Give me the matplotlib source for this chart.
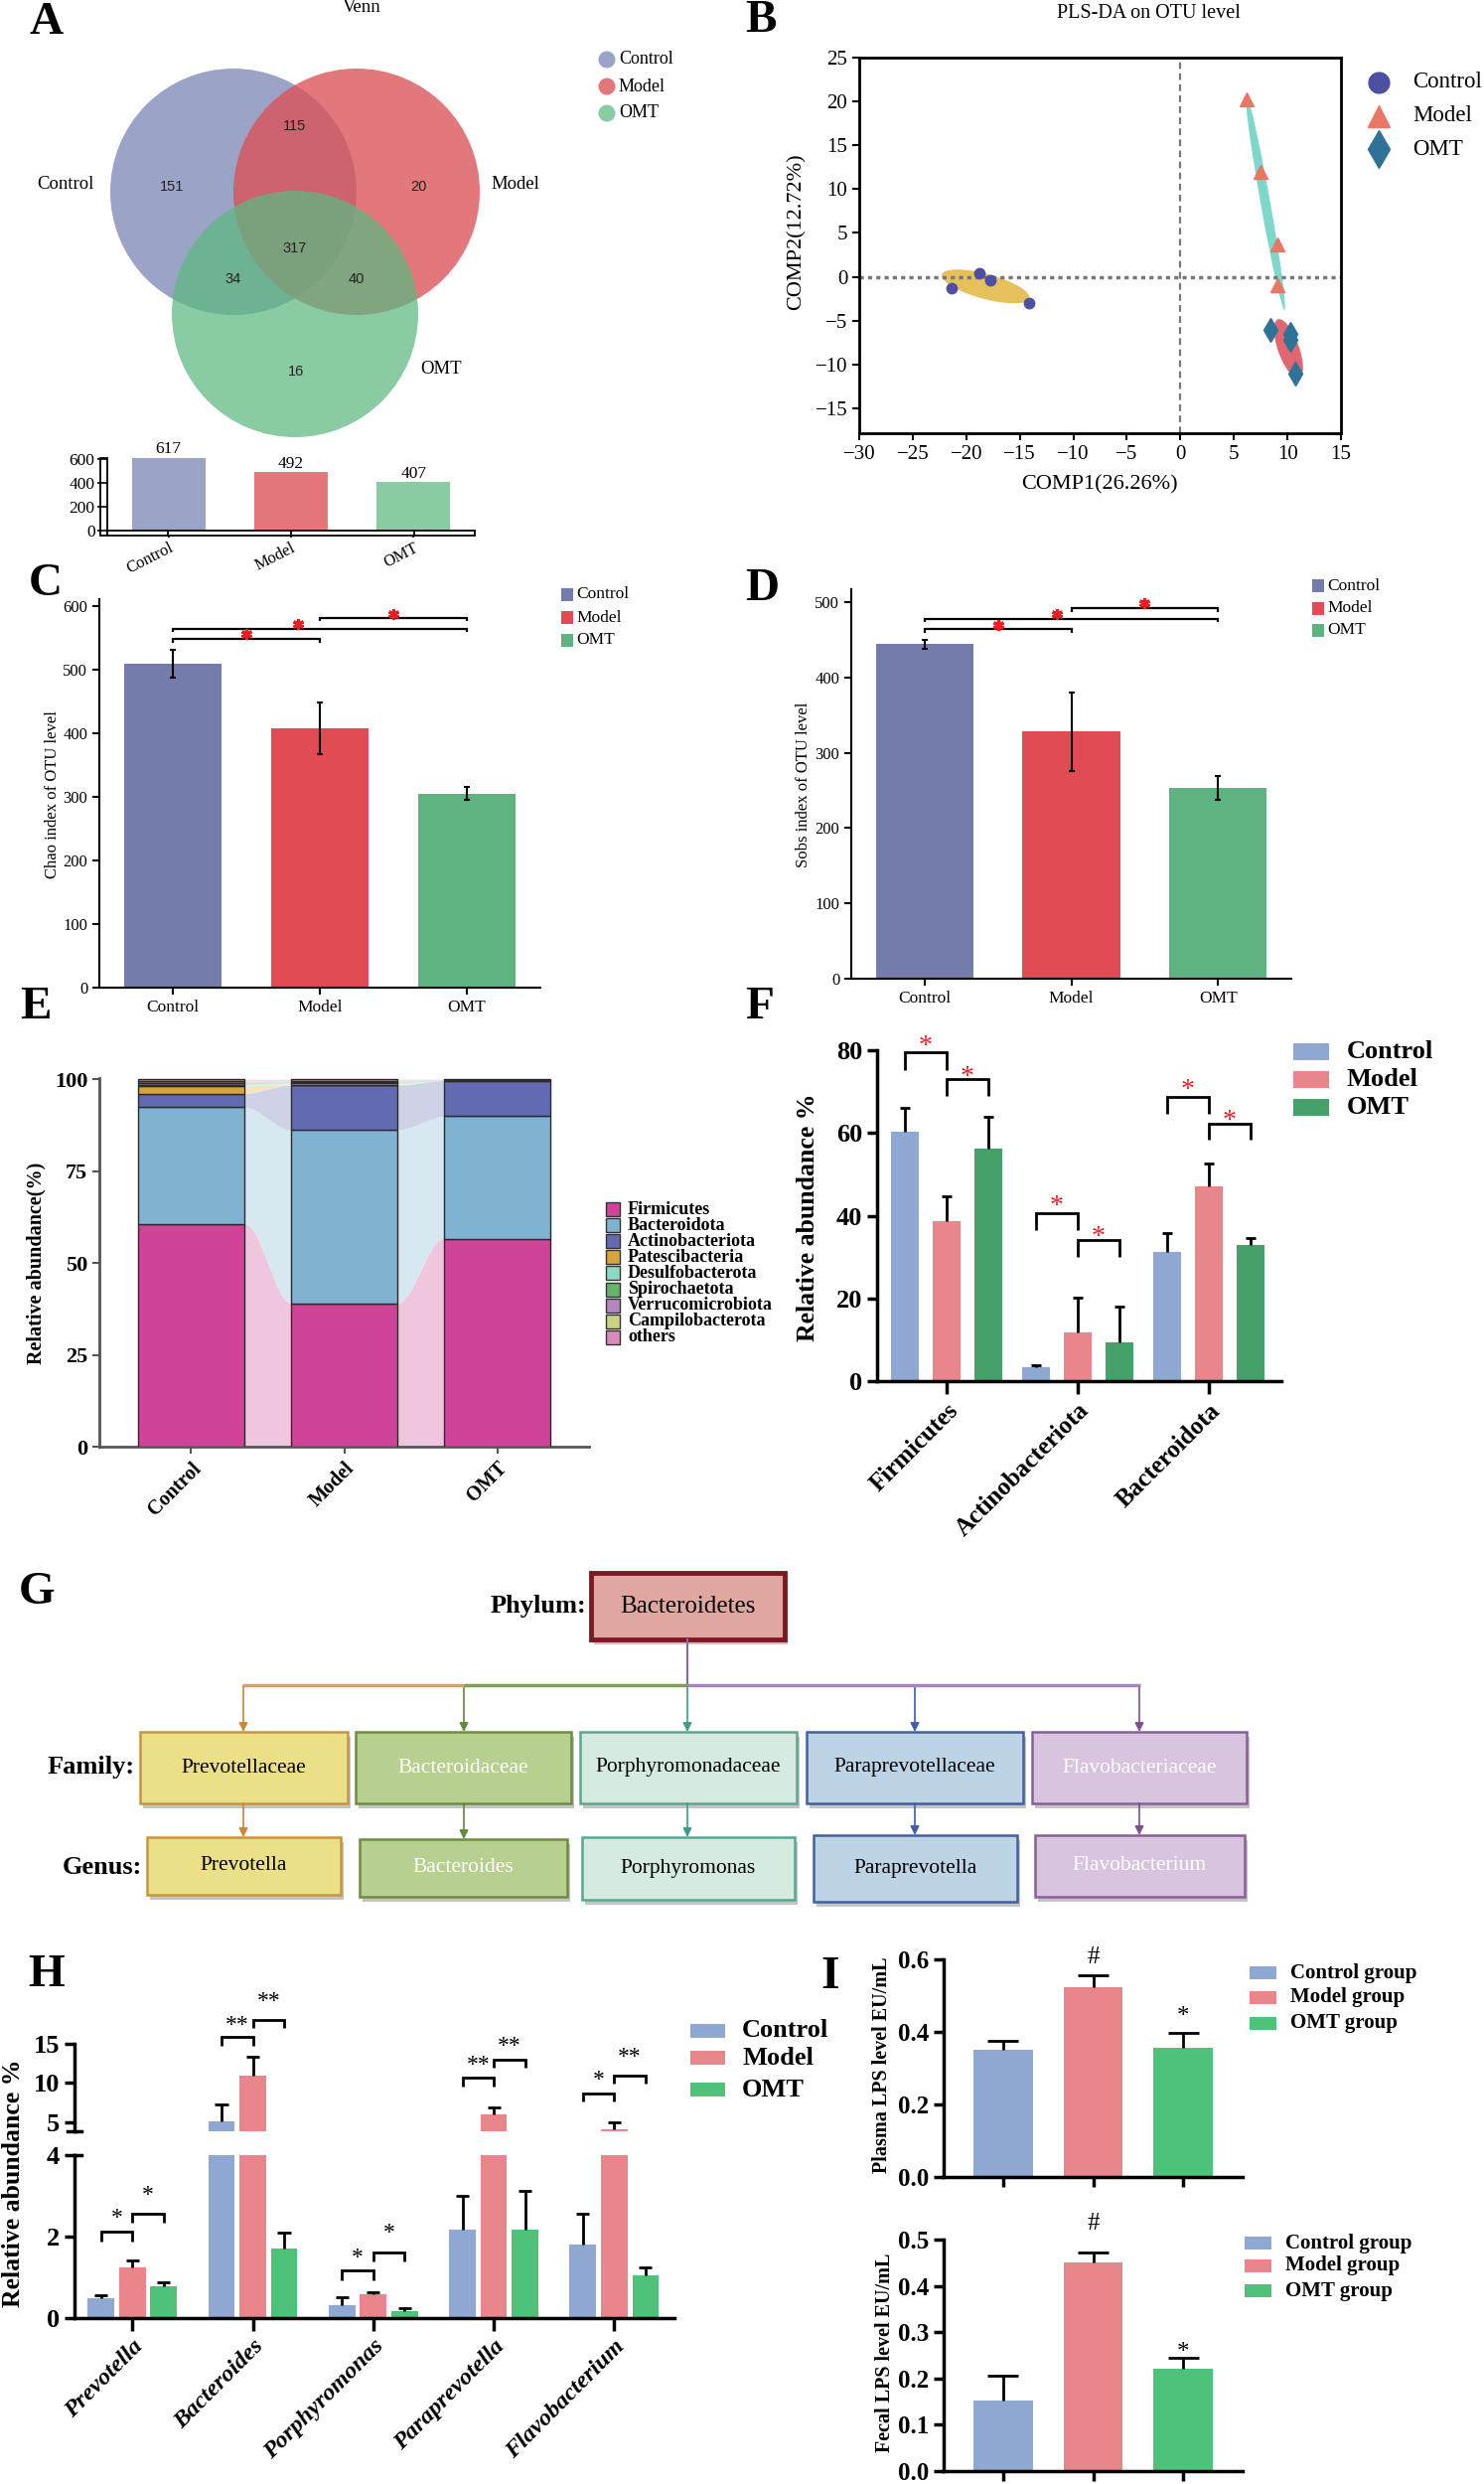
import numpy as np
import matplotlib
matplotlib.use('Agg')
import matplotlib.pyplot as plt
from matplotlib.patches import Circle, Rectangle, Ellipse, FancyArrowPatch
from matplotlib.ticker import FormatStrFormatter

plt.rcParams['font.family'] = ['Liberation Serif', 'DejaVu Serif']

# ------------------------------------------------------------------ data
groups = ['Control', 'Model', 'OMT']

# A: Venn (region counts) and OTU totals
venn_regions = ['Control', 'Model', 'OMT', 'Control&Model', 'Control&OMT', 'Model&OMT', 'All']
venn_counts = [151, 20, 16, 115, 34, 40, 317]
otu_totals = [617, 492, 407]

# B: PLS-DA scores
pls_ctrl_x = [-21.4, -18.8, -17.75, -14.1]
pls_ctrl_y = [-1.25, 0.42, -0.38, -3.03]
pls_model_x = [6.2, 7.5, 9.1, 9.1]
pls_model_y = [20.2, 12.0, 3.7, -0.9]
pls_omt_x = [8.4, 10.3, 10.3, 10.7]
pls_omt_y = [-6.1, -6.5, -7.2, -11.0]

# C / D: alpha diversity
chao_mean = [510, 408, 305]
chao_err = [22, 41, 10]
sobs_mean = [444, 328, 253]
sobs_err = [5.5, 52, 16]

# E: phylum composition (%)
phyla = ['Firmicutes', 'Bacteroidota', 'Actinobacteriota', 'Patescibacteria',
         'Desulfobacterota', 'Spirochaetota', 'Verrucomicrobiota',
         'Campilobacterota', 'others']
phyla_ctrl = [60.6, 31.8, 3.7, 2.1, 0.3, 0.5, 0.4, 0.1, 0.5]
phyla_model = [39.0, 47.3, 12.0, 0.1, 0.6, 0.3, 0.2, 0.1, 0.4]
phyla_omt = [56.6, 33.3, 9.7, 0.05, 0.05, 0.05, 0.05, 0.0, 0.2]

# F: selected phyla
f_taxa = ['Firmicutes', 'Actinobacteriota', 'Bacteroidota']
f_ctrl = [60.3, 3.4, 31.3]
f_ctrl_err = [5.7, 0.5, 4.4]
f_model = [38.7, 11.8, 47.0]
f_model_err = [6.1, 8.5, 5.6]
f_omt = [56.2, 9.4, 32.9]
f_omt_err = [7.8, 8.7, 1.8]

# G: taxonomy tree
phylum_name = 'Bacteroidetes'
family_names = ['Prevotellaceae', 'Bacteroidaceae', 'Porphyromonadaceae',
                'Paraprevotellaceae', 'Flavobacteriaceae']
genus_names = ['Prevotella', 'Bacteroides', 'Porphyromonas', 'Paraprevotella',
               'Flavobacterium']

# H: genera
h_genera = ['Prevotella', 'Bacteroides', 'Porphyromonas', 'Paraprevotella', 'Flavobacterium']
h_ctrl = [0.50, 5.1, 0.32, 2.17, 1.81]
h_ctrl_err = [0.05, 2.2, 0.20, 0.83, 0.76]
h_model = [1.24, 10.9, 0.58, 6.0, 4.15]
h_model_err = [0.17, 2.5, 0.05, 0.9, 0.85]
h_omt = [0.77, 1.71, 0.17, 2.16, 1.05]
h_omt_err = [0.10, 0.38, 0.07, 0.96, 0.20]

# I: LPS
lps_groups = ['Control group', 'Model group', 'OMT group']
plasma_lps = [0.352, 0.522, 0.355]
plasma_err = [0.024, 0.033, 0.042]
fecal_lps = [0.152, 0.450, 0.221]
fecal_err = [0.054, 0.023, 0.023]
lps_marks = ['', '#', '*']

# ------------------------------------------------------------------ figure
W, H = 1494, 2500
fig = plt.figure(figsize=(W / 100, H / 100), dpi=100)


def px_axes(x0, y0, x1, y1):
    return fig.add_axes([x0 / W, 1 - y1 / H, (x1 - x0) / W, (y1 - y0) / H])


def mark(ax, x, y, s, size, color='black', frac=0.52, **kw):
    ax.annotate(s, (x, y), xytext=(0, -frac * size), textcoords='offset points',
                ha='center', va='baseline', fontsize=size, color=color,
                annotation_clip=False, **kw)


def bracket(ax, x1, x2, y, drop, lw=2.0, color='black'):
    ax.plot([x1, x1, x2, x2], [y - drop, y, y, y - drop], color=color, lw=lw,
            clip_on=False, solid_joinstyle='miter', solid_capstyle='butt')


def up_err(ax, xs, vals, errs, half, lw=2.0):
    for x, v, e in zip(xs, vals, errs):
        ax.plot([x, x], [v, v + e], color='black', lw=lw, solid_capstyle='butt')
        ax.plot([x - half, x + half], [v + e, v + e], color='black', lw=lw,
                solid_capstyle='butt')


def bold_axes(ax, lw=2.5):
    for s in ['top', 'right']:
        ax.spines[s].set_visible(False)
    for s in ['left', 'bottom']:
        ax.spines[s].set_linewidth(lw)
    ax.tick_params(width=lw, direction='out')


xs = np.arange(3)

# ================= A: Venn =================
axA = px_axes(0, 40, 750, 460)
axA.set_xlim(0, 750)
axA.set_ylim(460, 40)
axA.axis('off')
venn_fill = ['#9BA3C6', '#DB5157', '#5DB881']
venn_alpha = [1.0, 0.78, 0.73]
venn_centers = [(235, 193), (359, 193), (297, 316)]
for (cx, cy), c, a in zip(venn_centers, venn_fill, venn_alpha):
    axA.add_patch(Circle((cx, cy), 124, facecolor=c, alpha=a, lw=0))
num_pos = [(173, 188), (421, 188), (298, 374), (297, 127), (235, 281), (359, 281), (297, 250)]
for (x, y), n in zip(num_pos, venn_counts):
    axA.text(x, y, str(n), ha='center', va='center', fontsize=10.5,
             family=['Liberation Sans Narrow', 'Liberation Sans'], color='#222222')
for (x, y), g in zip([(66, 186), (519, 186), (444, 372)], groups):
    axA.text(x, y, g, ha='center', va='center', fontsize=13.5)

venn_legend_col = ['#9BA3C6', '#E3777C', '#89CBA3']
axAb = px_axes(108, 461, 478, 534)
axAb.bar(xs, otu_totals, width=0.6, color=venn_legend_col)
axAb.set_xlim(-0.5, 2.5)
axAb.set_ylim(0, 612)
for s in axAb.spines.values():
    s.set_visible(False)
axAb.set_yticks([0, 200, 400, 600])
axAb.tick_params(axis='y', length=7, width=1.2, labelsize=12.5, pad=2)
axAb.set_xticks(xs)
axAb.set_xticklabels(groups, rotation=27, ha='right', rotation_mode='anchor', fontsize=12)
axAb.tick_params(axis='x', length=5, width=1.2, pad=2)
for i, v in enumerate(otu_totals):
    axAb.text(i, v + 2, str(v), ha='center', va='bottom', fontsize=12.5)

# ================= B: PLS-DA =================
axB = px_axes(865, 58, 1350, 436)
axB.set_xlim(-30, 15)
axB.set_ylim(-17.84, 25)
axB.add_patch(Ellipse((-18.2, -1.1), 8.6, 2.8, angle=-19, facecolor='#E6C05A', lw=0, zorder=1))
axB.add_patch(Ellipse((7.95, 8.4), 24.6, 0.9, angle=98.3, facecolor='#7DD8CB', lw=0, zorder=1))
axB.add_patch(Ellipse((10.1, -8.2), 7.0, 2.0, angle=105.8, facecolor='#E06670', lw=0, zorder=1))
axB.axhline(0, color='#777777', ls=(0, (1.2, 1.2)), lw=2.5, zorder=2)
axB.axvline(0, color='#777777', ls=(0, (3, 2)), lw=1.6, zorder=2)
axB.plot(pls_ctrl_x, pls_ctrl_y, 'o', ms=7.5, color='#4B50A5', zorder=3)
axB.plot(pls_model_x, pls_model_y, '^', ms=10, color='#EA7664', zorder=3)
axB.plot(pls_omt_x, pls_omt_y, 'd', ms=12, color='#2E7397', zorder=3)
axB.set_xticks(np.arange(-30, 16, 5))
axB.set_yticks(np.arange(-15, 26, 5))
for s in axB.spines.values():
    s.set_linewidth(2)
axB.tick_params(labelsize=15, length=5, width=1.5)

# ================= C / D =================
cd_colors = ['#737CAA', '#E14B53', '#5FB380']


def alpha_panel(ax, mean, err, ylim, yticks, brackets, stars):
    ax.bar(xs, mean, width=0.665, color=cd_colors)
    ax.errorbar(xs, mean, yerr=err, fmt='none', ecolor='black', elinewidth=1.5,
                capsize=2.5, capthick=1.5)
    ax.set_xlim(-0.5, 2.5)
    ax.set_ylim(*ylim)
    ax.set_yticks(yticks)
    for s in ['top', 'right']:
        ax.spines[s].set_visible(False)
    for s in ['left', 'bottom']:
        ax.spines[s].set_linewidth(1.5)
    ax.tick_params(length=5, width=1.5, labelsize=12)
    ax.set_xticks(xs)
    ax.set_xticklabels(groups, fontsize=12.5)
    for x1, x2, y, d in brackets:
        bracket(ax, x1, x2, y, d, lw=1.6)
    for x, y in stars:
        ax.plot(x, y, marker=(6, 2, 0), ms=8, mew=2.3, color='#EE1C25', clip_on=False)


axC = px_axes(100, 603, 544, 994)
alpha_panel(axC, chao_mean, chao_err, (0, 611), range(0, 601, 100),
            [(0, 1, 548, 5), (0, 2, 564.6, 5), (1, 2, 581, 5)],
            [(0.5, 557), (0.85, 572), (1.5, 588)])
axD = px_axes(857, 593, 1300, 985)
alpha_panel(axD, sobs_mean, sobs_err, (0, 517), range(0, 501, 100),
            [(0, 1, 464, 5), (0, 2, 478, 5), (1, 2, 492, 5)],
            [(0.5, 470), (0.9, 484), (1.5, 498)])

# ================= E: stacked composition =================
phyla_colors = ['#CF4498', '#7FB3D1', '#626AB2', '#D9A43D', '#8CD9C6',
                '#66B36E', '#B487C4', '#CBD483', '#D98BBC']
axE = px_axes(100, 1085, 593, 1456)
comp = np.array([phyla_ctrl, phyla_model, phyla_omt])
tops = np.cumsum(comp, axis=1)
bots = tops - comp
bw = 0.7
for k in range(len(phyla)):
    axE.bar(xs, comp[:, k], bottom=bots[:, k], width=bw, color=phyla_colors[k],
            edgecolor='#2a2a2a', lw=1.0, zorder=3)
for i in range(2):
    xr = i + bw / 2
    xl = i + 1 - bw / 2
    xx = np.linspace(xr, xl, 60)
    t = (xx - xr) / (xl - xr)
    sm = t * t * (3 - 2 * t)
    for k in range(len(phyla)):
        lo = bots[i, k] + (bots[i + 1, k] - bots[i, k]) * sm
        hi = tops[i, k] + (tops[i + 1, k] - tops[i, k]) * sm
        axE.fill_between(xx, lo, hi, color=phyla_colors[k], alpha=0.3, lw=0, zorder=2)
axE.set_xlim(-0.6, 2.6)
axE.set_ylim(0, 100.3)
axE.set_yticks([0, 25, 50, 75, 100])
for s in ['top', 'right']:
    axE.spines[s].set_visible(False)
for s in ['left', 'bottom']:
    axE.spines[s].set_linewidth(2)
    axE.spines[s].set_color('#555555')
axE.tick_params(length=5, width=1.5, color='#555555')
axE.set_yticklabels(['0', '25', '50', '75', '100'], fontsize=16, fontweight='bold')
axE.set_xticks(xs)
axE.set_xticklabels(groups, rotation=45, ha='right', rotation_mode='anchor',
                    fontsize=14.5, fontweight='bold')

# ================= F: phyla bars =================
fg_colors = ['#8FA8D2', '#E8868C', '#45A06A']
axF = px_axes(883, 1057, 1290, 1390)
f_offs = [-0.318, 0, 0.318]
for off, vals, errs, c in zip(f_offs, [f_ctrl, f_model, f_omt],
                              [f_ctrl_err, f_model_err, f_omt_err], fg_colors):
    axF.bar(xs + off, vals, width=0.208, color=c)
    up_err(axF, xs + off, vals, errs, 0.04, lw=2)
axF.set_xlim(-0.53, 2.553)
axF.set_ylim(0, 80)
axF.set_yticks([0, 20, 40, 60, 80])
bold_axes(axF, 2.5)
axF.tick_params(axis='y', length=7.2)
axF.tick_params(axis='x', length=9.5)
axF.set_yticklabels(['0', '20', '40', '60', '80'], fontsize=19, fontweight='bold')
axF.set_xticks(xs)
axF.set_xticklabels(f_taxa, rotation=45, ha='right', rotation_mode='anchor',
                    fontsize=18, fontweight='bold')
f_brackets = [(0, 0, 79.4, 4.1, 82.8), (0, 1, 73.0, 4.0, 75.4),
              (1, 0, 40.5, 3.9, 44.0), (1, 1, 34.0, 4.0, 36.7),
              (2, 0, 68.7, 4.1, 72.1), (2, 1, 62.2, 3.8, 64.7)]
for g, p, y, d, sy in f_brackets:
    x1 = g + f_offs[p]
    x2 = g + f_offs[p + 1]
    bracket(axF, x1, x2, y, d, lw=2)
    mark(axF, (x1 + x2) / 2, sy, '*', 20, color='#EE1C25')

# ================= H: genera with broken axis =================
h_colors = ['#8FA8D2', '#E8868C', '#4FC27A']
axHl = px_axes(75, 2169, 679, 2333)
axHu = px_axes(75, 2057, 679, 2145)
hx = np.arange(5)
h_offs = [-0.26, 0, 0.26]
for ax in (axHl, axHu):
    for off, vals, errs, c in zip(h_offs, [h_ctrl, h_model, h_omt],
                                  [h_ctrl_err, h_model_err, h_omt_err], h_colors):
        ax.bar(hx + off, vals, width=0.22, color=c)
        up_err(ax, hx + off, vals, errs, 0.054, lw=2)
    ax.set_xlim(-0.48, 4.5)
axHl.set_ylim(0, 4)
axHu.set_ylim(3.86, 15)
bold_axes(axHl, 2.5)
bold_axes(axHu, 2.5)
axHu.spines['bottom'].set_visible(False)
axHu.set_xticks([])
axHl.set_yticks([0, 2, 4])
axHl.set_yticklabels(['0', '2', '4'], fontsize=19, fontweight='bold')
axHu.set_yticks([5, 10, 15])
axHu.set_yticklabels(['5', '10', '15'], fontsize=19, fontweight='bold')
axHl.tick_params(axis='y', length=7.2)
axHu.tick_params(axis='y', length=7.2)
axHl.tick_params(axis='x', length=9.5)
axHl.set_xticks(hx)
axHl.set_xticklabels(h_genera, rotation=45, ha='right', rotation_mode='anchor',
                     fontsize=17.5, fontweight='bold', fontstyle='italic')
axHu.plot([-0.012, 0.012], [3.86, 3.86], transform=axHu.get_yaxis_transform(),
          color='black', lw=2.5, clip_on=False)
axHl.plot([0, 0.012], [4, 4], transform=axHl.get_yaxis_transform(),
          color='black', lw=2.5, clip_on=False)
h_brackets = [(0, 0, 2.12, 0.23, 2.61, '*', 'l'), (0, 1, 2.56, 0.21, 3.18, '*', 'l'),
              (1, 0, 15.85, 1.15, 18.2, '**', 'u'), (1, 1, 18.1, 1.1, 21.3, '**', 'u'),
              (2, 0, 1.16, 0.23, 1.64, '*', 'l'), (2, 1, 1.61, 0.23, 2.24, '*', 'l'),
              (3, 0, 10.67, 1.07, 13.1, '**', 'u'), (3, 1, 13.0, 1.1, 15.5, '**', 'u'),
              (4, 0, 8.66, 1.06, 11.2, '*', 'u'), (4, 1, 11.0, 1.1, 14.15, '**', 'u')]
for g, p, y, d, sy, s, which in h_brackets:
    ax = axHl if which == 'l' else axHu
    x1 = g + h_offs[p]
    x2 = g + h_offs[p + 1]
    bracket(ax, x1, x2, y, d, lw=2)
    mark(ax, (x1 + x2) / 2, sy, s, 17)

# ================= I: LPS =================
i_colors = ['#8FA8D2', '#E8868C', '#4FC27A']


def lps_panel(ax, vals, errs, ymax, step, mark_y):
    ax.bar(xs, vals, width=0.66, color=i_colors)
    up_err(ax, xs, vals, errs, 0.17, lw=2)
    ax.set_xlim(-0.66, 2.66)
    ax.set_ylim(0, ymax)
    ax.set_yticks(np.arange(0, ymax + 1e-9, step))
    ax.yaxis.set_major_formatter(FormatStrFormatter('%.1f'))
    bold_axes(ax, 2.5)
    ax.tick_params(axis='y', length=7.2, labelsize=18)
    for lab in ax.get_yticklabels():
        lab.set_fontweight('bold')
    ax.set_xticks(xs)
    ax.set_xticklabels([])
    ax.tick_params(axis='x', length=7.5)
    for x, s, y in zip(xs, lps_marks, mark_y):
        if s:
            mark(ax, x, y, s, 18, frac=0.52 if s == '*' else 0.34)


axI1 = px_axes(950, 1972, 1251, 2191)
lps_panel(axI1, plasma_lps, plasma_err, 0.6, 0.2, [0, 0.611, 0.46])
axI2 = px_axes(950, 2254, 1251, 2487)
lps_panel(axI2, fecal_lps, fecal_err, 0.5, 0.1, [0, 0.539, 0.27])

# ================= overlay (pixel coordinates) =================
ov = fig.add_axes([0, 0, 1, 1])
ov.set_xlim(0, W)
ov.set_ylim(H, 0)
ov.axis('off')

# panel letters
for lab, x, y in [('A', 29, 2), ('B', 750, 0), ('C', 29, 567), ('D', 750, 572),
                  ('E', 20, 993), ('F', 750, 993), ('G', 19, 1582), ('H', 28, 1967),
                  ('I', 826, 1969)]:
    ov.text(x, y, lab, fontsize=34, fontweight='bold', ha='left', va='top')

# A extras
ov.text(364, 8, 'Venn', fontsize=13.5, ha='center', va='center')
for i, (g, c) in enumerate(zip(groups, venn_legend_col)):
    ov.add_patch(Circle((611, 60 + 27 * i), 8.5, facecolor=c, lw=0))
    ov.text(623, 60 + 27 * i, g, fontsize=13, va='center', ha='left')
ov.add_patch(Rectangle((101, 461), 7, 78, facecolor='none', edgecolor='black', lw=1.3))
ov.add_patch(Rectangle((108, 534), 370, 5, facecolor='white', edgecolor='black', lw=1.3))
for tx in [169, 293, 417]:
    ov.plot([tx, tx], [534, 539], color='black', lw=1.3)

# B extras
ov.text(1156, 13, 'PLS-DA on OTU level', fontsize=14.5, ha='center', va='center')
ov.text(1107, 488, 'COMP1(26.26%)', fontsize=16, ha='center', va='center')
ov.text(802, 233, 'COMP2(12.72%)', fontsize=16, ha='center', va='center', rotation=90)
ov.plot([1388], [83], 'o', ms=15, color='#4B50A5')
ov.plot([1388], [117], '^', ms=16, color='#EA7664')
ov.plot([1388], [150], 'd', ms=19, color='#2E7397')
for y, g in zip([83, 117, 150], groups):
    ov.text(1422, y, g, fontsize=16.5, va='center', ha='left')

# C / D extras
ov.text(53, 800, 'Chao index of OTU level', fontsize=12, rotation=90, ha='center', va='center')
ov.text(809, 790, 'Sobs index of OTU level', fontsize=12, rotation=90, ha='center', va='center')
for x0, ys in [(565, [592, 615, 638]), (1321, [583, 606, 628])]:
    for y, g, c in zip(ys, groups, cd_colors):
        ov.add_patch(Rectangle((x0, y), 12, 12.5, facecolor=c, lw=0))
        ov.text(x0 + 15, y + 6.5, g, fontsize=12.5, va='center', ha='left')

# E extras
ov.text(36, 1271, 'Relative abundance(%)', fontsize=14.5, fontweight='bold',
        rotation=90, ha='center', va='center')
for k, (name, c) in enumerate(zip(phyla, phyla_colors)):
    yc = 1217 + 16.1 * k
    ov.add_patch(Rectangle((610, yc - 7), 14, 14, facecolor=c, edgecolor='#333333', lw=1))
    ov.text(632, yc, name, fontsize=13, fontweight='bold', va='center', ha='left')

# F extras
ov.text(814, 1225, 'Relative abundance %', fontsize=18.5, fontweight='bold',
        rotation=90, ha='center', va='center')
for y, g, c in zip([1050, 1078, 1106], groups, fg_colors):
    ov.add_patch(Rectangle((1302, y), 36, 16.5, facecolor=c, lw=0))
    ov.text(1356, y + 8.5, g, fontsize=19, fontweight='bold', va='center', ha='left')

# G: taxonomy tree
fam_fill = ['#EBDF87', '#B8D08F', '#D5EBDF', '#BDD4E6', '#D8C4DF']
fam_edge = ['#C99440', '#6F8C3F', '#5BA593', '#4060A0', '#8B5E9B']
txt_col = ['black', 'white', 'black', 'black', 'white']
arrow_col = ['#C8892F', '#5F8A3A', '#3E9C88', '#3C5DA8', '#7D4F8E']
fam_boxes = [(141, 350), (358, 575), (584, 802), (812, 1030), (1039, 1255)]
gen_boxes = [(148, 343, 1849, 1907), (362, 571, 1851, 1909), (586, 800, 1849, 1912),
             (819, 1024, 1847, 1914), (1042, 1253, 1847, 1909)]
branch_x = [245, 467, 692, 921, 1147]


def box(x0, x1, y0, y1, fc, ec, lw=1.8, shadow=True):
    if shadow:
        ov.add_patch(Rectangle((x0 + 3, y0 + 5), x1 - x0, y1 - y0, facecolor='#C4C4C4', lw=0))
    ov.add_patch(Rectangle((x0, y0), x1 - x0, y1 - y0, facecolor=fc, edgecolor=ec, lw=lw))


box(595, 790, 1583, 1650, '#E0A7A0', '#7A1A22', lw=3.5)
ov.text(692, 1617, phylum_name, fontsize=18, ha='center', va='center')
ov.text(590, 1617, 'Phylum:', fontsize=19, fontweight='bold', ha='right', va='center')
ov.text(136, 1779, 'Family:', fontsize=19, fontweight='bold', ha='right', va='center')
ov.text(143, 1879, 'Genus:', fontsize=19, fontweight='bold', ha='right', va='center')
ov.plot([692, 692], [1650, 1696], color='#8B6A9E', lw=1.5)
ov.plot([245, 467], [1696, 1696], color='#D9A066', lw=2.5, solid_capstyle='butt')
ov.plot([467, 692], [1696, 1696], color='#7E9E55', lw=2.5, solid_capstyle='butt')
ov.plot([692, 1148], [1696, 1696], color='#A885B8', lw=2.5, solid_capstyle='butt')
for i in range(5):
    bx = branch_x[i]
    ov.add_patch(FancyArrowPatch((bx, 1696), (bx, 1743), arrowstyle='-|>',
                                 mutation_scale=13, color=arrow_col[i], lw=1.2,
                                 shrinkA=0, shrinkB=0))
    fx0, fx1 = fam_boxes[i]
    box(fx0, fx1, 1743, 1815, fam_fill[i], fam_edge[i])
    ov.text((fx0 + fx1) / 2, 1779, family_names[i], fontsize=15.5, color=txt_col[i],
            ha='center', va='center')
    gx0, gx1, gy0, gy1 = gen_boxes[i]
    ov.add_patch(FancyArrowPatch((bx, 1815), (bx, gy0), arrowstyle='-|>',
                                 mutation_scale=13, color=arrow_col[i], lw=1.2,
                                 shrinkA=0, shrinkB=0))
    box(gx0, gx1, gy0, gy1, fam_fill[i], fam_edge[i])
    ov.text((gx0 + gx1) / 2, (gy0 + gy1) / 2, genus_names[i], fontsize=15.5,
            color=txt_col[i], ha='center', va='center')

# H extras
ov.text(14, 2197, 'Relative abundance %', fontsize=18.5, fontweight='bold',
        rotation=90, ha='center', va='center')
for y, g, c in zip([2037, 2064, 2096], groups, h_colors):
    ov.add_patch(Rectangle((695, y), 35, 14, facecolor=c, lw=0))
    ov.text(747, y + 7, g, fontsize=19, fontweight='bold', va='center', ha='left')

# I extras
ov.text(888, 2078, 'Plasma LPS level EU/mL', fontsize=14.5, fontweight='bold',
        rotation=90, ha='center', va='center')
ov.text(891, 2368, 'Fecal LPS level EU/mL', fontsize=14.5, fontweight='bold',
        rotation=90, ha='center', va='center')
for x0, ys in [(1258, [1979, 2004, 2030]), (1253, [2251, 2274, 2299])]:
    for y, g, c in zip(ys, lps_groups, i_colors):
        ov.add_patch(Rectangle((x0, y), 27, 13, facecolor=c, lw=0))
        ov.text(x0 + 41, y + 6.5, g, fontsize=15, fontweight='bold', va='center', ha='left')

fig.savefig('out.png', dpi=100)
